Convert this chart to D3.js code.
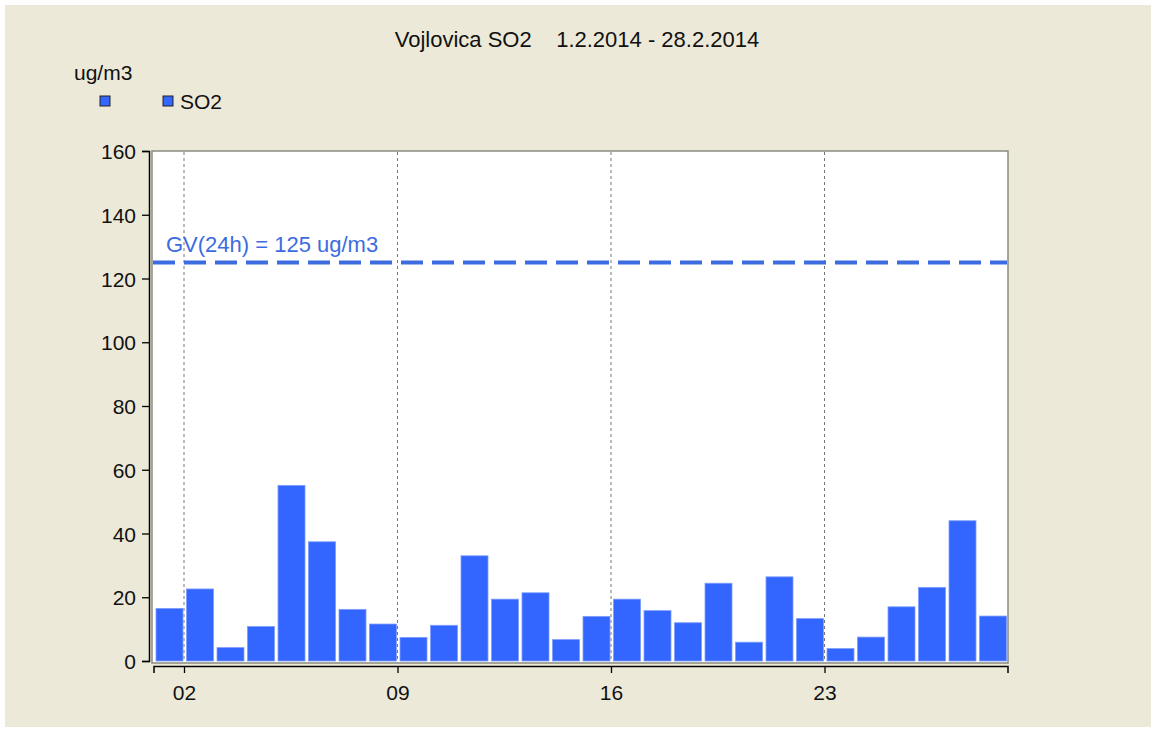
<!DOCTYPE html>
<html>
<head>
<meta charset="utf-8">
<script src="https://cdn.jsdelivr.net/npm/d3@7"></script>
<style>
  body { margin: 0; background: #fff; }
  svg text { font-family: "Liberation Sans", Arial, sans-serif; fill: #111; }
</style>
</head>
<body>
<div id="container"></div>
<script>
const w = 1156;
const h = 732;

// data
const days = d3.range(1, 29);
const so2 = [16.5, 22.6, 4.2, 10.8, 55.1, 37.4, 16.2, 11.6, 7.4, 11.2, 33.0, 19.4, 21.4, 6.7,
             14.0, 19.4, 15.8, 12.0, 24.4, 5.9, 26.4, 13.3, 3.9, 7.5, 17.0, 23.1, 44.0, 14.1];
const xTickDays = [2, 9, 16, 23];
const yTicks = [0, 20, 40, 60, 80, 100, 120, 140, 160];
const limitValue = 125;
const title = 'Vojlovica SO2    1.2.2014 - 28.2.2014';
const unit = 'ug/m3';
const limitLabel = 'GV(24h) = 125 ug/m3';

const blue = '#3366ff';
const day = d => new Date(2014, 1, d);

const scaleX = d3.scaleTime([day(1), day(29)], [153.5, 1007.5]);
const scaleY = d3.scaleLinear([0, 160], [661, 151]);

const svg = d3.select('#container')
    .append('svg')
    .attr('width', w)
    .attr('height', h);

svg.append('rect')
    .attr('x', 5).attr('y', 5)
    .attr('width', w - 10).attr('height', h - 10)
    .attr('fill', '#ece9d8');

// plot frame
svg.append('rect')
    .attr('x', 152).attr('y', 151)
    .attr('width', 856).attr('height', 512)
    .attr('fill', '#fff')
    .attr('stroke', '#8a8a80')
    .attr('stroke-width', 1.5);

// dashed grid at tick days
svg.selectAll('.grid')
    .data(xTickDays)
    .enter()
    .append('line')
    .attr('class', 'grid')
    .attr('x1', d => scaleX(day(d)))
    .attr('x2', d => scaleX(day(d)))
    .attr('y1', 152)
    .attr('y2', 662)
    .attr('stroke', '#777')
    .attr('stroke-dasharray', '3,3');

svg.selectAll('.bar')
    .data(days)
    .enter()
    .append('rect')
    .attr('class', 'bar')
    .attr('x', d => scaleX(day(d)) + 2.5)
    .attr('width', d => scaleX(day(d + 1)) - scaleX(day(d)) - 3.5)
    .attr('y', (d, i) => scaleY(so2[i]))
    .attr('height', (d, i) => scaleY(0) - scaleY(so2[i]))
    .attr('fill', blue)
    .attr('stroke', '#7d9cff')
    .attr('stroke-width', 0.8);

// limit line
svg.append('line')
    .attr('x1', 153).attr('x2', 1007)
    .attr('y1', scaleY(limitValue)).attr('y2', scaleY(limitValue))
    .attr('stroke', '#3c6ce0')
    .attr('stroke-width', 4)
    .attr('stroke-dasharray', '22,9');

svg.append('text')
    .text(limitLabel)
    .attr('x', 166)
    .attr('y', scaleY(limitValue) - 11)
    .attr('font-size', 22)
    .style('fill', '#3c6ce0');

const axisX = d3.axisBottom(scaleX)
    .tickValues(xTickDays.map(day))
    .tickFormat(d3.timeFormat('%d'))
    .tickSize(7)
    .tickSizeOuter(7);

const axisY = d3.axisLeft(scaleY)
    .tickValues(yTicks)
    .tickSize(7)
    .tickSizeOuter(7);

const gx = svg.append('g')
    .attr('transform', 'translate(0,666)')
    .call(axisX);
gx.selectAll('text').attr('font-size', 21).attr('dy', '1.15em');
gx.select('.domain').attr('stroke-width', 1.5);

const gy = svg.append('g')
    .attr('transform', 'translate(149,0)')
    .call(axisY);
gy.selectAll('text').attr('font-size', 21).attr('dy', '0.36em').attr('x', -13);
gy.select('.domain').attr('stroke-width', 1.5);

svg.selectAll('.tick line').attr('stroke-width', 1.3);

svg.append('text')
    .text(title)
    .attr('x', 577)
    .attr('y', 47)
    .attr('text-anchor', 'middle')
    .attr('font-size', 22)
    .style('white-space', 'pre');

// legend
svg.append('text')
    .text(unit)
    .attr('x', 74)
    .attr('y', 80)
    .attr('font-size', 21);

svg.selectAll('.key')
    .data([100, 163])
    .enter()
    .append('rect')
    .attr('class', 'key')
    .attr('x', d => d)
    .attr('y', 96)
    .attr('width', 10)
    .attr('height', 10)
    .attr('fill', blue)
    .attr('stroke', '#222')
    .attr('stroke-width', 1);

svg.append('text')
    .text('SO2')
    .attr('x', 180)
    .attr('y', 109)
    .attr('font-size', 21);
</script>
</body>
</html>
